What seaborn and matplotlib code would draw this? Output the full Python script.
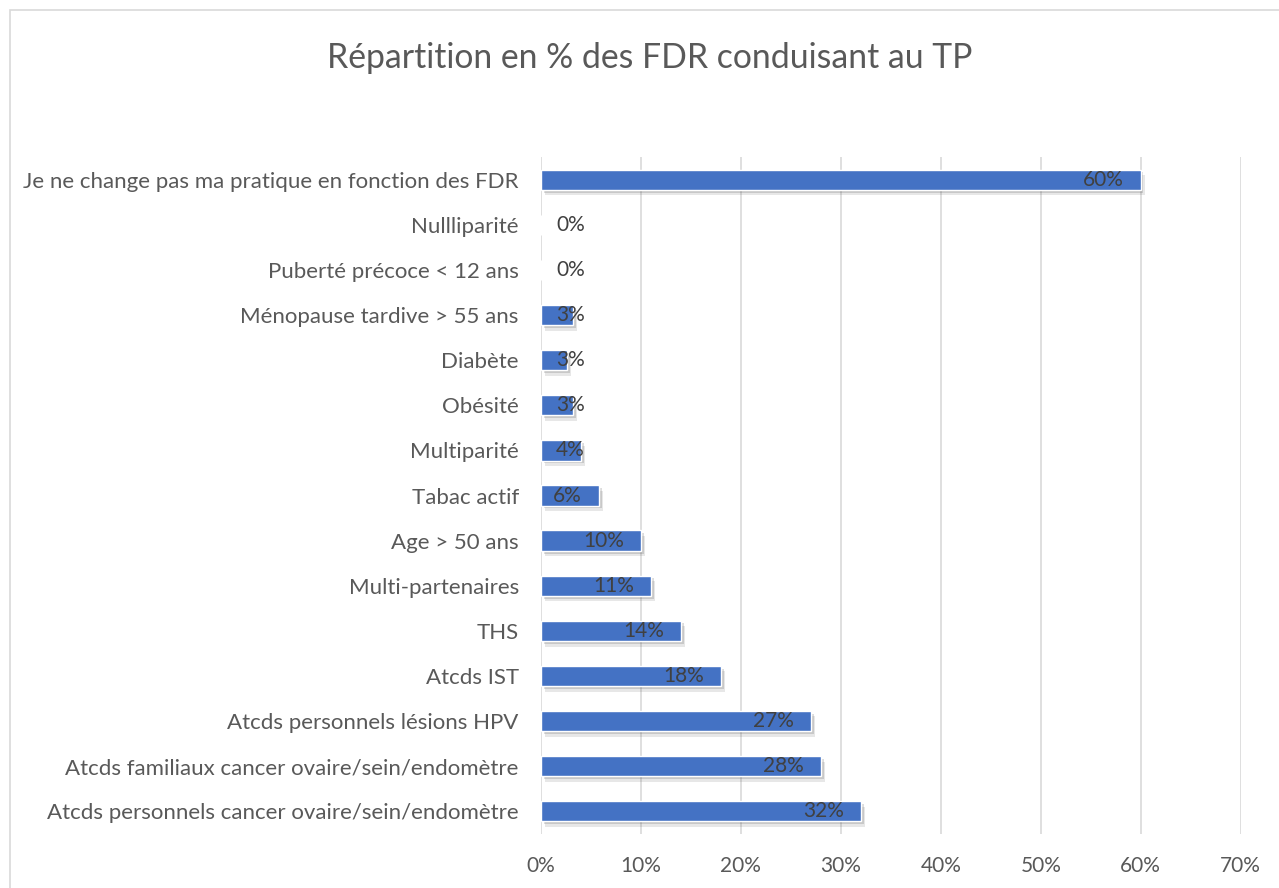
import matplotlib
matplotlib.use("Agg")
import matplotlib.pyplot as plt
import matplotlib.patheffects as pe
from matplotlib.patches import Rectangle
from matplotlib.ticker import FuncFormatter
import pandas as pd
import seaborn as sns

# Data (top to bottom)
categories = [
    "Je ne change pas ma pratique en fonction des FDR",
    "Nullliparité",
    "Puberté précoce < 12 ans",
    "Ménopause tardive > 55 ans",
    "Diabète",
    "Obésité",
    "Multiparité",
    "Tabac actif",
    "Age > 50 ans",
    "Multi-partenaires",
    "THS",
    "Atcds IST",
    "Atcds personnels lésions HPV",
    "Atcds familiaux cancer ovaire/sein/endomètre",
    "Atcds personnels cancer ovaire/sein/endomètre",
]
values = [60.0, 0.0, 0.0, 3.2, 2.6, 3.2, 4.0, 5.8, 10.0, 11.0, 14.0, 18.0, 27.0, 28.0, 32.0]
labels = ["60%", "0%", "0%", "3%", "3%", "3%", "4%", "6%", "10%", "11%", "14%", "18%", "27%", "28%", "32%"]
x_ticks = [0, 10, 20, 30, 40, 50, 60, 70]

df = pd.DataFrame({"categorie": categories, "valeur": values})

sns.set_style("white")
plt.rcParams["font.family"] = ["Lato", "DejaVu Sans"]

fig = plt.figure(figsize=(12.79, 8.88), dpi=100)
ax = fig.add_axes([0.423, 0.061, 0.547, 0.762])

# Outer chart border
fig.patches.append(Rectangle((10 / 1279, -0.01), 1.01, 1 - 10 / 888 + 0.01,
                             transform=fig.transFigure, fill=False,
                             edgecolor="#d9d9d9", linewidth=1.2))

sns.barplot(data=df, x="valeur", y="categorie", orient="h", color="#4472C4",
            width=0.45, saturation=1, ax=ax, zorder=3)

# soft drop shadow under each bar
for bar in ax.patches:
    bar.set_path_effects([
        pe.SimplePatchShadow(offset=(3, -4), alpha=0.12, shadow_rgbFace="#404040"),
        pe.SimplePatchShadow(offset=(2, -2), alpha=0.18, shadow_rgbFace="#404040"),
        pe.Normal(),
    ])

# Data labels (inside end, as in the original)
for i, (v, lab) in enumerate(zip(values, labels)):
    if v < 5:
        ax.text(1.5, i, lab, ha="left", va="center", fontsize=15, color="#404040", zorder=4)
    else:
        ax.text(v - 1.7, i, lab, ha="right", va="center", fontsize=15, color="#404040", zorder=4)

ax.set_xlim(0, 70)
ax.set_xticks(x_ticks)
ax.xaxis.set_major_formatter(FuncFormatter(lambda x, p: f"{x:.0f}%"))
ax.grid(axis="x", color="#d9d9d9", linewidth=1.2, zorder=0)
ax.set_axisbelow(True)
for s in ax.spines.values():
    s.set_visible(False)
ax.set_xlabel("")
ax.set_ylabel("")
ax.tick_params(axis="both", length=0, labelcolor="#595959")
ax.tick_params(axis="x", pad=16, labelsize=15)
ax.tick_params(axis="y", pad=16, labelsize=16)

fig.text(650 / 1279, 1 - 58 / 888, "Répartition en % des FDR conduisant au TP",
         ha="center", va="center", fontsize=24.3, color="#595959")

fig.savefig("out.png", dpi=100)
